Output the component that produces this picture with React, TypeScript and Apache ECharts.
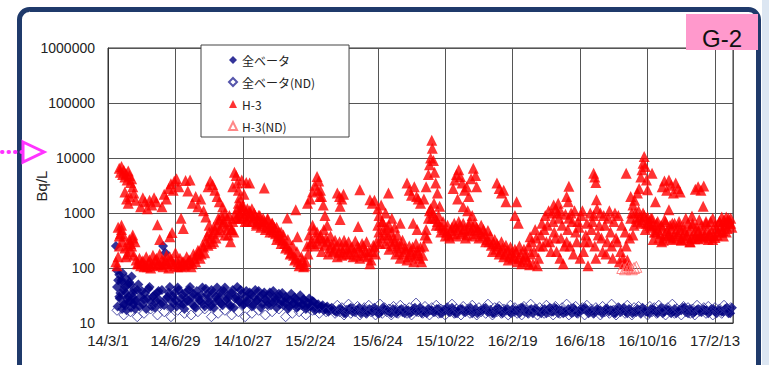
import React, { useEffect, useRef } from 'react';
import * as echarts from 'echarts';

// ---- tick labels ----
const xTickLabels = ['14/3/1', '14/6/29', '14/10/27', '15/2/24', '15/6/24', '15/10/22', '16/2/19', '16/6/18', '16/10/16', '17/2/13'];
const yTickLabels = ['10', '100', '1000', '10000', '100000', '1000000'];
const X_MAX = 1112; // days since 2014/3/1 at right edge
const X_STEP = 120;

// ---- H-3 (lower band A), every 4 days from day 14 ----
const h3BaseStart = 14;
const h3BaseStep = 4;
const h3Base = [
  130, 160, 420, 300, 230, 180, 330, 250, 170, 140,
  120, 110, 135, 115, 105, 140, 120, 110, 150, 125,
  115, 105, 135, 120, 160, 130, 110, 140, 120, 105,
  130, 115, 125, 140, 120, 150, 170, 200, 180, 240,
  300, 260, 350, 420, 500, 600, 750, 900, 700, 550,
  400, 300, 700, 950, 1200, 1000, 1100, 900, 1000, 850,
  950, 800, 900, 750, 700, 650, 700, 600, 550, 500,
  450, 420, 380, 350, 320, 280, 250, 220, 190, 170,
  150, 130, 120, 140, 110, 250, 400, 300, 500, 350,
  280, 400, 320, 260, 300, 230, 270, 210, 250, 190,
  230, 200, 260, 220, 180, 240, 200, 170, 230, 190,
  250, 210, 160, 120, 200, 240, 300, 450, 350, 500,
  280, 400, 320, 250, 300, 230, 200, 260, 180, 220,
  160, 200, 240, 170, 210, 150, 130, 250, 500, 800,
  1200, 1000, 800, 700, 600, 550, 500, 450, 400, 480,
  420, 550, 500, 600, 450, 520, 400, 600, 480, 550,
  420, 500, 450, 380, 420, 330, 300, 260, 280, 220,
  250, 200, 230, 180, 210, 170, 190, 160, 200, 150,
  180, 140, 170, 130, 115, 300, 200, 350, 150, 400,
  250, 900, 600, 300, 1000, 450, 200, 800, 350, 120,
  950, 500, 250, 700, 1100, 300, 550, 900, 200, 400,
  110, 1000, 700, 250, 1200, 600, 350, 900, 180, 800,
  450, 150, 1000, 300, 130, 600, 120, 250, 110, 800,
  400, 1000, 700, 850, 750, 900, 650, 700, 550, 600,
  450, 500, 420, 550, 400, 480, 430, 520, 380, 460,
  420, 500, 380, 450, 400, 480, 360, 430, 400, 470,
  380, 440, 400, 500, 420, 460, 390, 520, 450, 560,
  480, 600, 520, 650, 550,
];

// ---- H-3 (lower band B), every 4 days from day 16 ----
const h3Base2Start = 16;
const h3Base2Step = 4;
const h3Base2 = [
  110, 250, 600, 380, 160, 260, 200, 400, 300, 120,
  150, 130, 105, 160, 125, 100, 170, 140, 115, 180,
  140, 125, 170, 100, 145, 120, 190, 105, 150, 130,
  110, 160, 140, 105, 180, 130, 210, 150, 260, 190,
  380, 450, 280, 550, 350, 800, 500, 650, 1000, 800,
  600, 500, 450, 800, 1500, 800, 1300, 700, 1200, 1100,
  700, 1000, 650, 900, 550, 800, 500, 750, 450, 650,
  550, 330, 450, 280, 400, 230, 330, 180, 260, 140,
  200, 110, 160, 105, 130, 180, 280, 600, 250, 450,
  350, 200, 500, 350, 180, 380, 200, 320, 160, 300,
  170, 320, 180, 300, 230, 160, 310, 250, 150, 280,
  170, 300, 200, 140, 260, 180, 600, 280, 700, 400,
  550, 220, 450, 350, 180, 280, 150, 320, 230, 140,
  250, 180, 130, 280, 190, 240, 170, 400, 350, 1100,
  800, 1500, 600, 900, 450, 700, 380, 600, 350, 550,
  650, 380, 700, 420, 650, 350, 500, 700, 380, 650,
  550, 350, 600, 500, 300, 480, 380, 200, 330, 280,
  180, 300, 160, 260, 140, 240, 150, 220, 130, 250,
  120, 220, 160, 250, 180, 120, 500, 110, 250, 650,
  500, 300, 1100, 200, 700, 350, 1000, 150, 600, 250,
  300, 800, 1000, 180, 450, 700, 150, 1100, 300, 650,
  300, 500, 900, 150, 400, 1000, 200, 600, 300, 1100,
  250, 700, 350, 900, 200, 150, 450, 140, 350, 1000,
  600, 800, 1100, 650, 1000, 500, 850, 600, 800, 450,
  650, 350, 600, 320, 700, 380, 600, 330, 650, 350,
  600, 330, 550, 350, 650, 300, 600, 340, 550, 380,
  600, 350, 650, 380, 700, 330, 600, 400, 700, 450,
  750, 450, 800, 650,
];

// ---- H-3 scattered points [day, Bq/L] ----
const h3Scatter: [number, number][] = [
  [20, 6500], [22, 5500], [24, 7000], [26, 5000], [28, 6000], [30, 4500], [32, 5200], [34, 4000], [36, 5800], [38, 4800],
  [40, 3600], [42, 4200], [44, 3000], [46, 2300], [49, 1700], [30, 2400], [33, 1800], [36, 1500], [39, 2000],
  [18, 550], [20, 380], [24, 500], [40, 280], [44, 350],
  [58, 1300], [62, 1900], [66, 1600], [70, 1200], [74, 1700], [78, 1400], [82, 1900], [86, 1600], [88, 610], [92, 330],
  [96, 1300], [100, 2200], [104, 1800], [108, 2800], [112, 3400], [116, 2600], [110, 370], [114, 440], [118, 3800], [122, 4200],
  [126, 3000], [130, 800], [134, 520], [138, 3900], [142, 2500], [146, 4000],
  [150, 1500], [156, 2000], [160, 1300], [165, 1800], [170, 1100], [174, 850], [178, 3000], [182, 3800], [186, 3300], [190, 2600],
  [194, 2000], [198, 1600],
  [180, 600], [188, 300], [196, 450], [204, 1300], [208, 400], [216, 900], [220, 500], [232, 800], [240, 1400], [248, 700],
  [256, 1200], [264, 600], [270, 900], [284, 800], [292, 650], [300, 550], [308, 450],
  [222, 3000], [225, 5500], [228, 4800], [230, 3500], [232, 2600], [234, 1900], [236, 1300], [238, 4000], [242, 2200], [246, 3600],
  [252, 3500], [278, 2850],
  [319, 810], [334, 1150], [337, 370],
  [355, 1500], [360, 1800], [364, 2400], [368, 3200], [372, 4600], [375, 3800], [378, 2600], [380, 2000], [383, 1400], [386, 900],
  [390, 600], [373, 2600], [377, 2000],
  [408, 2300], [412, 2000], [416, 1800], [419, 2200], [413, 1330], [413, 760], [445, 570], [448, 2650], [466, 1750], [470, 1500],
  [474, 1700], [480, 1200], [486, 1400], [499, 2300], [482, 900], [488, 700], [494, 1000], [500, 600], [505, 800], [510, 550],
  [515, 400], [520, 650],
  [532, 3500], [536, 2600], [540, 2100], [545, 3000], [549, 2000], [543, 650], [550, 500], [552, 1800], [556, 1500],
  [570, 5000], [572, 7500], [574, 10000], [576, 21000], [577, 15000], [579, 9000], [581, 5500], [583, 3500], [586, 2300], [590, 1330],
  [566, 3000], [562, 1800],
  [614, 2800], [617, 4000], [620, 5000], [624, 6100], [627, 4600], [630, 3500], [634, 2600], [638, 3000], [642, 2000], [646, 4200],
  [650, 6500], [654, 4800], [656, 3000], [622, 1800], [632, 1300], [640, 1100], [648, 900],
  [692, 3500], [696, 2800], [700, 2300], [704, 2600], [708, 1600], [727, 1600], [724, 900], [730, 650], [751, 370],
  [793, 1400], [797, 1200], [801, 1500], [805, 1100], [816, 2000], [819, 1600], [820, 3050],
  [864, 5300], [866, 4500], [868, 3600], [869, 1750], [922, 5300], [930, 2000], [934, 1400], [937, 1700],
  [942, 2300], [945, 2800], [948, 4500], [950, 6100], [952, 8000], [954, 10700], [956, 7000], [958, 4000], [960, 2650],
  [968, 5300], [974, 1600], [986, 3000], [990, 3800], [994, 2600], [998, 4000], [1002, 3200], [1006, 2300], [1010, 3500], [1014, 2800],
  [1018, 2400], [998, 1150],
  [1045, 2700], [1050, 3000], [1055, 2600], [1060, 3100], [1059, 1330], [1039, 880], [1092, 850], [1098, 650], [1103, 700],
  [966, 800], [978, 700], [990, 750], [1004, 650], [1016, 700], [1028, 800], [1040, 650], [1052, 750], [1064, 700], [1076, 800],
  [1088, 700], [1100, 850], [1108, 800], [970, 330], [985, 300], [1000, 350], [1020, 320], [1035, 300], [1050, 340], [1068, 330],
  [1080, 360], [1095, 380],
];

// ---- H-3 (ND) ----
const h3ND: [number, number][] = [
  [915, 100], [920, 95], [924, 105], [928, 100], [932, 95], [936, 100], [940, 105],
];

// ---- 全ベータ (detected) ----
const betaEarlyStart = 14;
const betaEarlyStep = 4;
const betaEarly = [
  250, 60, 35, 80, 45, 28, 55, 70, 40, 25,
  50, 30, 22, 35, 28, 45, 20, 32, 25, 38,
  22, 250, 190, 30, 45, 24, 35, 20, 40, 28,
  22, 36, 25, 45, 30, 20, 38, 26, 32, 22,
  42, 28, 20, 35, 24, 44, 30, 22, 38, 26,
  32, 20, 40, 28, 45, 24, 34, 22, 38, 27,
  33, 21, 40, 26, 30, 22, 36, 25, 32, 21,
  38, 26, 30, 22, 35, 24, 28, 20, 34, 23,
  27, 20, 32, 22, 26, 19, 28, 21, 24, 18,
  22, 19, 21, 18, 20, 17, 19,
];
const betaEarly2Start = 16;
const betaEarly2Step = 4;
const betaEarly2 = [
  45, 30, 60, 22, 35, 50, 25, 30, 18, 40,
  20, 38, 27, 18, 42, 24, 30, 19, 35, 26,
  40, 21, 28, 36, 19, 30, 26, 44, 22, 33,
  18, 28, 40, 23, 34, 19, 30, 25, 44, 20,
  33, 24, 40, 19, 30, 26, 36, 21, 44, 28,
  22, 35, 19, 30, 26, 40, 21, 29, 24, 36,
  20, 30, 25, 38, 19, 33, 27, 21, 36, 24,
  29, 19, 34, 25, 21, 30, 18, 26, 22, 29,
  19, 24, 21, 27, 18, 23, 20, 25, 17, 21,
  18, 20, 17, 19, 16, 18,
];
const betaExtra: [number, number][] = [
  [16, 90], [20, 75], [24, 55], [28, 40], [32, 65], [36, 30], [40, 50], [44, 35], [48, 25],
  [17, 20], [21, 28], [25, 18], [29, 22], [33, 17], [37, 24], [41, 19], [45, 22],
];
const betaLateStart = 402;
const betaLateStep = 6;
const betaLate = [
  17, 16, 18, 15, 17, 19, 16, 17, 15, 18,
  16, 17, 19, 15, 16, 18, 17, 15, 17, 16,
  18, 15, 17, 16, 19, 17, 15, 16, 18, 17,
  16, 18, 15, 17, 16, 19, 15, 17, 18, 16,
  17, 15, 18, 16, 17, 19, 16, 15, 17, 18,
  15, 17, 16, 18, 17, 15, 19, 16, 17, 15,
  18, 16, 17, 15, 19, 16, 18, 17, 15, 16,
  17, 19, 15, 16, 18, 17, 16, 15, 18, 17,
  16, 18, 17, 15, 17, 16, 19, 15, 17, 16,
  18, 15, 17, 16, 18, 17, 15, 19, 16, 17,
  15, 18, 16, 17, 19, 15, 17, 16, 18, 16,
  17, 15, 18, 16, 17, 16, 18, 15, 19,
];
const betaLate2Start = 405;
const betaLate2Step = 6;
const betaLate2 = [
  16, 18, 17, 15, 18, 16, 17, 19, 16, 15,
  18, 16, 17, 15, 19, 17, 16, 18, 15, 17,
  16, 17, 15, 18, 16, 19, 17, 15, 17, 16,
  18, 15, 17, 19, 16, 17, 15, 18, 16, 17,
  19, 16, 15, 17, 18, 16, 17, 15, 19, 16,
  17, 18, 15, 16, 17, 19, 16, 15, 18, 17,
  16, 15, 18, 17, 16, 19, 15, 17, 16, 18,
  15, 17, 16, 18, 19, 15, 17, 16, 17, 15,
  18, 16, 17, 15, 19, 17, 16, 18, 15, 16,
  17, 19, 16, 15, 18, 16, 17, 15, 18, 17,
  16, 15, 17, 19, 16, 18, 15, 17, 16, 18,
  17, 16, 18, 15, 17, 16, 19, 15,
];

// ---- 全ベータ (ND) ----
const ndEarlyStart = 16;
const ndEarlyStep = 12;
const ndEarly = [
  17, 14, 16, 13, 15, 18, 14, 16, 13, 17, 15, 14, 16, 18, 13, 15,
  17, 14, 16, 13, 15, 17, 14, 16, 18, 13, 15, 16, 14, 17, 15, 16,
];
const ndLateStart = 400;
const ndLateStep = 4;
const ndLate = [
  18, 15, 21, 16, 19, 14, 17, 22, 15, 18,
  16, 20, 14, 17, 19, 15, 21, 16, 18, 14,
  17, 22, 15, 19, 16, 18, 14, 20, 17, 15,
  21, 16, 18, 15, 19, 14, 17, 23, 16, 18,
  15, 20, 17, 14, 19, 16, 21, 15, 18, 17,
  14, 19, 16, 22, 15, 18, 17, 14, 20, 16,
  18, 15, 21, 17, 14, 19, 16, 18, 15, 22,
  17, 14, 19, 16, 20, 15, 18, 17, 14, 21,
  16, 19, 15, 18, 14, 20, 17, 15, 22, 16,
  18, 14, 19, 17, 15, 21, 16, 18, 14, 20,
  17, 15, 19, 16, 22, 14, 18, 16, 20, 15,
  17, 19, 14, 21, 16, 18, 15, 19, 17, 14,
  20, 16, 18, 15, 22, 17, 14, 19, 16, 18,
  15, 21, 17, 14, 19, 16, 20, 15, 18, 17,
  14, 20, 16, 19, 15, 21, 17, 18, 14, 19,
  16, 22, 15, 18, 17, 14, 20, 16, 19, 15,
  18, 14, 21, 17, 16, 19, 15, 20, 17, 14,
  19, 16, 18, 15, 21, 17, 16, 19,
];

const seq = (start: number, step: number, vals: number[]): [number, number][] =>
  vals.map((v, i) => [start + i * step, v]);

export default function App() {
  const ref = useRef<HTMLDivElement>(null);
  useEffect(() => {
    if (!ref.current) return;
    const chart = echarts.init(ref.current, undefined, { renderer: 'svg' });
    const betaData = [
      ...seq(betaEarlyStart, betaEarlyStep, betaEarly),
      ...seq(betaEarly2Start, betaEarly2Step, betaEarly2),
      ...betaExtra,
      ...seq(betaLateStart, betaLateStep, betaLate),
      ...seq(betaLate2Start, betaLate2Step, betaLate2),
    ];
    const ndData = [...seq(ndEarlyStart, ndEarlyStep, ndEarly), ...seq(ndLateStart, ndLateStep, ndLate)];
    const h3Data = [...seq(h3BaseStart, h3BaseStep, h3Base), ...seq(h3Base2Start, h3Base2Step, h3Base2), ...h3Scatter];
    const magenta = '#ff33ff';
    chart.setOption({
      animation: false,
      backgroundColor: '#ffffff',
      grid: { left: 108, top: 48, width: 625, height: 275, show: true, borderColor: '#333', borderWidth: 1, backgroundColor: '#fff' },
      xAxis: {
        type: 'value', min: 0, max: X_MAX, interval: X_STEP,
        axisLine: { show: true, lineStyle: { color: '#333' } },
        axisTick: { show: false },
        splitLine: { show: true, lineStyle: { color: '#555', width: 1 } },
        axisLabel: {
          showMaxLabel: false, margin: 10, fontSize: 15, color: '#222', fontFamily: 'Liberation Sans',
          formatter: (v: number) => (v % X_STEP === 0 ? xTickLabels[v / X_STEP] ?? '' : ''),
        },
      },
      yAxis: {
        type: 'log', logBase: 10, min: 10, max: 1000000,
        axisLine: { show: true, lineStyle: { color: '#333' } },
        axisTick: { show: false },
        splitLine: { show: true, lineStyle: { color: '#555', width: 1 } },
        axisLabel: {
          margin: 13, fontSize: 14, color: '#222', fontFamily: 'Liberation Sans',
          formatter: (v: number) => yTickLabels[Math.round(Math.log10(v)) - 1] ?? '',
        },
      },
      legend: {
        left: 201, top: 45, orient: 'vertical', selectedMode: false,
        itemWidth: 8, itemHeight: 8, itemGap: 8,
        padding: [8, 34, 4, 27],
        backgroundColor: '#fff', borderColor: '#444', borderWidth: 1,
        textStyle: { fontSize: 12, color: '#222', fontFamily: 'Noto Sans CJK JP', lineHeight: 14 },
        data: ['全ベータ', '全ベータ(ND)', 'H-3', 'H-3(ND)'],
      },
      series: [
        { name: '全ベータ', type: 'scatter', symbol: 'diamond', symbolSize: 10, silent: true,
          itemStyle: { color: '#000080' }, data: betaData },
        { name: '全ベータ(ND)', type: 'scatter', symbol: 'diamond', symbolSize: 10, silent: true,
          itemStyle: { color: 'rgba(255,255,255,0)', borderColor: '#2a2a96', borderWidth: 1 }, data: ndData },
        { name: 'H-3', type: 'scatter', symbol: 'triangle', symbolSize: 11, silent: true,
          itemStyle: { color: '#ff0000' }, data: h3Data },
        { name: 'H-3(ND)', type: 'scatter', symbol: 'triangle', symbolSize: 11, silent: true,
          itemStyle: { color: 'rgba(255,255,255,0)', borderColor: '#ff6a6a', borderWidth: 1 }, data: h3ND },
      ],
      graphic: [
        { type: 'rect', z: 1, shape: { x: 762, y: 0, width: 7, height: 365 }, style: { fill: '#dce6f2' } },
        { type: 'rect', z: 100, shape: { x: 19.5, y: 9.5, width: 739, height: 420, r: 10 },
          style: { fill: 'none', stroke: '#1f3a6b', lineWidth: 5 } },
        { type: 'rect', z: 100, shape: { x: 686, y: 14, width: 72, height: 36 }, style: { fill: '#ff99cc' } },
        { type: 'text', z: 101, x: 722, y: 38,
          style: { text: 'G-2', fill: '#111', fontSize: 24, fontFamily: 'Liberation Sans', align: 'center', verticalAlign: 'middle' } },
        { type: 'text', z: 101, x: 41, y: 186, rotation: Math.PI / 2,
          style: { text: 'Bq/L', fill: '#222', fontSize: 15, fontFamily: 'Liberation Sans', align: 'center', verticalAlign: 'middle' } },
        { type: 'line', z: 101, shape: { x1: 2, y1: 152, x2: 22, y2: 152 },
          style: { stroke: magenta, lineWidth: 4, lineDash: [0.5, 6], lineCap: 'round' } },
        { type: 'polygon', z: 101, shape: { points: [[23, 142], [44, 152], [23, 162]] },
          style: { fill: '#fff', stroke: magenta, lineWidth: 3 } },
      ],
    });
    return () => chart.dispose();
  }, []);
  return <div ref={ref} style={{ position: 'absolute', left: 0, top: 0, width: 769, height: 365, background: '#fff' }} />;
}
